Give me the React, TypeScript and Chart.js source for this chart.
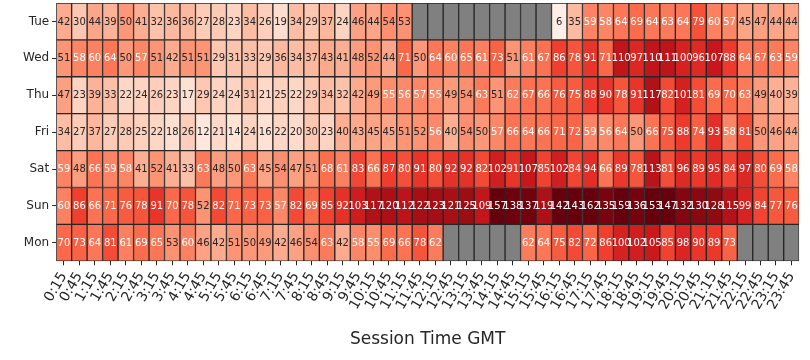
import React, { useEffect, useRef } from "react";
import { Chart, registerables } from "chart.js";

Chart.register(...registerables);

const days = ["Tue", "Wed", "Thu", "Fri", "Sat", "Sun", "Mon"];

const times = [
  "0:15", "0:45", "1:15", "1:45", "2:15", "2:45", "3:15", "3:45",
  "4:15", "4:45", "5:15", "5:45", "6:15", "6:45", "7:15", "7:45",
  "8:15", "8:45", "9:15", "9:45", "10:15", "10:45", "11:15", "11:45",
  "12:15", "12:45", "13:15", "13:45", "14:15", "14:45", "15:15", "15:45",
  "16:15", "16:45", "17:15", "17:45", "18:15", "18:45", "19:15", "19:45",
  "20:15", "20:45", "21:15", "21:45", "22:15", "22:45", "23:15", "23:45",
];

const tue = [
  42, 30, 44, 39, 50, 41, 32, 36, 36, 27, 28, 23,
  34, 26, 19, 34, 29, 37, 24, 46, 44, 54, 53, null,
  null, null, null, null, null, null, null, null, 6, 35, 59, 58,
  64, 69, 64, 63, 64, 79, 60, 57, 45, 47, 44, 44,
];
const wed = [
  51, 58, 60, 64, 50, 57, 51, 42, 51, 51, 29, 31,
  33, 29, 36, 34, 37, 43, 41, 48, 52, 44, 71, 50,
  64, 60, 65, 61, 73, 51, 61, 67, 86, 78, 91, 71,
  110, 97, 110, 111, 100, 96, 107, 88, 64, 67, 63, 59,
];
const thu = [
  47, 23, 39, 33, 22, 24, 26, 23, 17, 29, 24, 24,
  31, 21, 25, 22, 29, 34, 32, 42, 49, 55, 56, 57,
  55, 49, 54, 63, 51, 62, 67, 66, 76, 75, 88, 90,
  78, 91, 117, 82, 101, 81, 69, 70, 63, 49, 40, 39,
];
const fri = [
  34, 27, 37, 27, 28, 25, 22, 18, 26, 12, 21, 14,
  24, 16, 22, 20, 30, 23, 40, 43, 45, 45, 51, 52,
  56, 40, 54, 50, 57, 66, 64, 66, 71, 72, 59, 56,
  64, 50, 66, 75, 88, 74, 93, 58, 81, 50, 46, 44,
];
const sat = [
  59, 48, 66, 59, 58, 41, 52, 41, 33, 63, 48, 50,
  63, 45, 54, 47, 51, 68, 61, 83, 66, 87, 80, 91,
  80, 92, 92, 82, 102, 91, 107, 85, 102, 84, 94, 66,
  89, 78, 113, 81, 96, 89, 95, 84, 97, 80, 69, 58,
];
const sun = [
  60, 86, 66, 71, 76, 78, 91, 70, 78, 52, 82, 71,
  73, 73, 57, 82, 69, 85, 92, 103, 117, 120, 112, 122,
  123, 121, 125, 109, 157, 138, 137, 119, 142, 143, 162, 135,
  159, 136, 153, 147, 132, 130, 128, 115, 99, 84, 77, 76,
];
const mon = [
  70, 73, 64, 81, 61, 69, 65, 53, 60, 46, 42, 51,
  50, 49, 42, 46, 54, 63, 42, 58, 55, 69, 66, 78,
  62, null, null, null, null, null, 62, 64, 75, 82, 72, 86,
  100, 102, 105, 85, 98, 90, 89, 73, null, null, null, null,
];

const rows: (number | null)[][] = [tue, wed, thu, fri, sat, sun, mon];

const VMIN = 0;
const VMAX = 140;
const REDS = [
  [255, 245, 240], [254, 224, 210], [252, 187, 161], [252, 146, 114],
  [251, 106, 74], [239, 59, 44], [203, 24, 29], [165, 15, 21], [103, 0, 13],
];
const NAN_COLOR = "#808080";
const LINE_COLOR = "#262626";
const DARK_TEXT = "#262626";
const FONT = "'DejaVu Sans', sans-serif";

function cmapRGB(v: number): number[] {
  let t = (v - VMIN) / (VMAX - VMIN);
  t = Math.max(0, Math.min(1, t));
  const idx = Math.min(255, Math.floor(t * 256));
  const tt = idx / 255;
  const s = tt * 8;
  const i = Math.min(7, Math.floor(s));
  const f = s - i;
  const a = REDS[i], b = REDS[i + 1];
  return [0, 1, 2].map((k) => a[k] + (b[k] - a[k]) * f);
}

function rgbStr(c: number[]) {
  return `rgb(${Math.round(c[0])},${Math.round(c[1])},${Math.round(c[2])})`;
}

function luminance(c: number[]) {
  const lin = c.map((x) => {
    const y = x / 255;
    return y <= 0.03928 ? y / 12.92 : Math.pow((y + 0.055) / 1.055, 2.4);
  });
  return 0.2126 * lin[0] + 0.7152 * lin[1] + 0.0722 * lin[2];
}

const cellLabels = {
  id: "cellLabels",
  afterDatasetsDraw(chart: any) {
    const ctx = chart.ctx;
    ctx.save();
    ctx.font = `10px ${FONT}`;
    ctx.textAlign = "center";
    ctx.textBaseline = "middle";
    rows.forEach((row, r) => {
      const meta = chart.getDatasetMeta(r);
      meta.data.forEach((bar: any, i: number) => {
        const v = row[i];
        if (v == null) return;
        const p = bar.getCenterPoint();
        const c = cmapRGB(v);
        ctx.fillStyle = luminance(c) > 0.408 ? DARK_TEXT : "#ffffff";
        ctx.fillText(String(v), p.x, p.y + 0.5);
      });
    });
    ctx.restore();
  },
};

export default function App() {
  const ref = useRef<HTMLCanvasElement | null>(null);

  useEffect(() => {
    if (!ref.current) return;
    const datasets = rows.map((row, r) => ({
      label: days[r],
      data: row.map(() => [r - 0.5, r + 0.5]),
      backgroundColor: row.map((v) => (v == null ? NAN_COLOR : rgbStr(cmapRGB(v)))),
      borderColor: LINE_COLOR,
      borderWidth: 1,
      borderSkipped: false,
      grouped: false,
      barPercentage: 1,
      categoryPercentage: 1,
    }));

    const chart = new Chart(ref.current, {
      type: "bar",
      data: { labels: times, datasets: datasets as any },
      plugins: [cellLabels],
      options: {
        responsive: false,
        animation: false,
        devicePixelRatio: 1,
        layout: { padding: { top: 3, left: 20, right: 0, bottom: 10 } },
        plugins: {
          legend: { display: false },
          tooltip: { enabled: false },
        },
        scales: {
          x: {
            type: "category",
            offset: true,
            ticks: {
              autoSkip: false,
              maxRotation: 60,
              minRotation: 60,
              padding: 4,
              color: DARK_TEXT,
              font: { family: FONT, size: 14 },
            },
            grid: {
              offset: false,
              drawOnChartArea: false,
              drawTicks: true,
              tickLength: 4,
              tickColor: LINE_COLOR,
            },
            border: { display: false },
            title: {
              display: true,
              text: "Session Time GMT",
              color: DARK_TEXT,
              font: { family: FONT, size: 17 },
              padding: { top: 13, bottom: 0 },
            },
          },
          y: {
            type: "linear",
            min: -0.5,
            max: 6.5,
            reverse: true,
            afterBuildTicks: (axis: any) => {
              axis.ticks = days.map((_, i) => ({ value: i }));
            },
            afterFit: (axis: any) => {
              axis.paddingTop = 0;
              axis.paddingBottom = 0;
            },
            ticks: {
              autoSkip: false,
              padding: 3,
              color: DARK_TEXT,
              font: { family: FONT, size: 12 },
              callback: (v: any) => days[v as number] ?? "",
            },
            grid: {
              drawOnChartArea: false,
              drawTicks: true,
              tickLength: 4,
              tickColor: LINE_COLOR,
            },
            border: { display: false },
          },
        },
      } as any,
    });
    return () => chart.destroy();
  }, []);

  return (
    <div style={{ position: "fixed", left: 0, top: 0, width: 810, height: 360, background: "#ffffff" }}>
      <canvas ref={ref} width={810} height={360} style={{ width: 810, height: 360 }} />
    </div>
  );
}
